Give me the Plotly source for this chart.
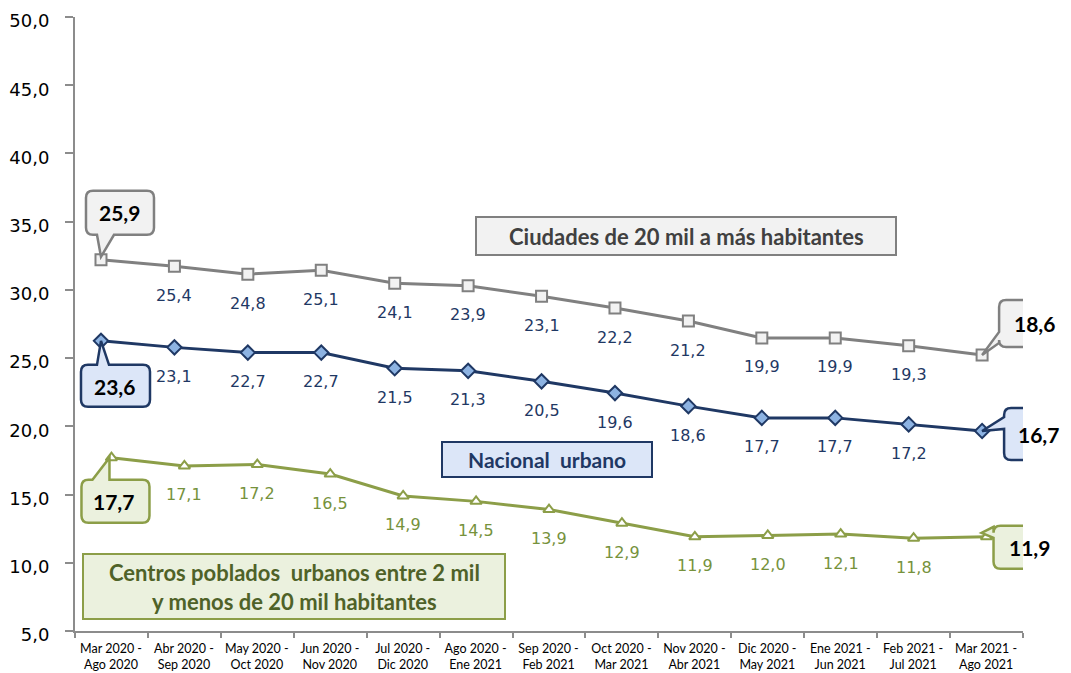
import plotly.graph_objects as go

# ---------------- data ----------------
periodos = [
    "Mar 2020 -<br>Ago 2020", "Abr 2020 -<br>Sep 2020", "May 2020 -<br>Oct 2020",
    "Jun 2020 -<br>Nov 2020", "Jul 2020 -<br>Dic 2020", "Ago 2020 -<br>Ene 2021",
    "Sep 2020 -<br>Feb 2021", "Oct 2020 -<br>Mar 2021", "Nov 2020 -<br>Abr 2021",
    "Dic 2020 -<br>May 2021", "Ene 2021 -<br>Jun 2021", "Feb 2021 -<br>Jul 2021",
    "Mar 2021 -<br>Ago 2021",
]
ciudades = [25.9, 25.4, 24.8, 25.1, 24.1, 23.9, 23.1, 22.2, 21.2, 19.9, 19.9, 19.3, 18.6]
nacional = [23.6, 23.1, 22.7, 22.7, 21.5, 21.3, 20.5, 19.6, 18.6, 17.7, 17.7, 17.2, 16.7]
centros = [17.7, 17.1, 17.2, 16.5, 14.9, 14.5, 13.9, 12.9, 11.9, 12.0, 12.1, 11.8, 11.9]
y_ticks = [5, 10, 15, 20, 25, 30, 35, 40, 45, 50]

nombre_ciudades = "Ciudades de 20 mil a más habitantes"
nombre_nacional = "Nacional  urbano"
nombre_centros = "Centros poblados  urbanos entre 2 mil<br>y menos de 20 mil habitantes"

idx = list(range(len(periodos)))

# ---------------- styles ----------------
GRAY = "#808080"
GRAY_FILL = "#F2F2F2"
NAVY = "#1F3864"
BLUE_FILL = "#DCE6F8"
BLUE_MARK = "#8DB3E2"
OLIVE = "#8C9E48"
OLIVE_FILL = "#EBF1DE"
OLIVE_TXT = "#76923C"
OLIVE_DARK = "#4F6228"
AXIS = "#8C8C8C"

def fmt(v):
    return f"{v:.1f}".replace(".", ",")

fig = go.Figure()

fig.add_trace(go.Scatter(
    x=idx, y=centros, mode="lines+markers", xaxis="x", yaxis="y",
    line=dict(color=OLIVE, width=3),
    marker=dict(symbol="triangle-up", size=10, color="white",
                line=dict(color=OLIVE, width=2)),
    hoverinfo="skip"))
fig.add_trace(go.Scatter(
    x=idx, y=ciudades, mode="lines+markers", xaxis="x2", yaxis="y2",
    line=dict(color=GRAY, width=3),
    marker=dict(symbol="square", size=11, color=GRAY_FILL,
                line=dict(color=GRAY, width=2)),
    hoverinfo="skip"))
fig.add_trace(go.Scatter(
    x=idx, y=nacional, mode="lines+markers", xaxis="x2", yaxis="y3",
    line=dict(color=NAVY, width=3),
    marker=dict(symbol="diamond", size=11, color=BLUE_MARK,
                line=dict(color=NAVY, width=2)),
    hoverinfo="skip"))

annotations = []
shapes = []

# data labels under intermediate points
for vals, xr, yr, col in [(ciudades, "x2", "y2", NAVY),
                          (nacional, "x2", "y3", NAVY),
                          (centros, "x", "y", OLIVE_TXT)]:
    for i in idx[1:-1]:
        annotations.append(dict(
            x=i, y=vals[i], xref=xr, yref=yr, text=fmt(vals[i]),
            showarrow=False, yshift=-29,
            font=dict(family="DejaVu Sans", size=16, color=col)))

# callouts (screen-relative pixel geometry, y down)
def callout_path(box, edge, b1, b2, tip, r=7):
    x0, x1, y0, y1 = box
    tx, ty = tip
    P = lambda x, y: f"{x},{-y}"
    s = f"M{P(x0 + r, y0)}"
    if edge == "top":
        s += f" L{P(b1, y0)} L{P(tx, ty)} L{P(b2, y0)}"
    s += f" L{P(x1 - r, y0)} Q{P(x1, y0)} {P(x1, y0 + r)}"
    if edge == "right":
        s += f" L{P(x1, b1)} L{P(tx, ty)} L{P(x1, b2)}"
    s += f" L{P(x1, y1 - r)} Q{P(x1, y1)} {P(x1 - r, y1)}"
    if edge == "bottom":
        s += f" L{P(b2, y1)} L{P(tx, ty)} L{P(b1, y1)}"
    s += f" L{P(x0 + r, y1)} Q{P(x0, y1)} {P(x0, y1 - r)}"
    if edge == "left":
        s += f" L{P(x0, b2)} L{P(tx, ty)} L{P(x0, b1)}"
    s += f" L{P(x0, y0 + r)} Q{P(x0, y0)} {P(x0 + r, y0)} Z"
    return s

callouts = [
    # series, index, xref, yref, box, edge, b1, b2, tip, text offset, fill, line
    (ciudades, 0, "x2", "y2", (-15, 53, -69, -25), "bottom", -4, 13, (0, -3), (19, -47), GRAY_FILL, GRAY),
    (ciudades, 12, "x2", "y2", (17, 88, -55, -8), "left", -23, -12, (0, 0), (52, -31), GRAY_FILL, GRAY),
    (nacional, 0, "x2", "y3", (-20, 49, 24, 66), "top", -4, 8, (0, 0), (14, 46), BLUE_FILL, NAVY),
    (nacional, 12, "x2", "y3", (22, 90, -23, 29), "left", -14, -2, (0, 0), (56, 4), BLUE_FILL, NAVY),
    (centros, 0, "x", "y", (-30, 38, 22, 65), "top", -19, -2, (-2, 0), (2, 44), OLIVE_FILL, OLIVE),
    (centros, 12, "x", "y", (7, 77, -11, 32), "left", -10, 1, (-5, -4), (43, 11), OLIVE_FILL, OLIVE),
]
for vals, i, xr, yr, box, edge, b1, b2, tip, toff, fill, line in callouts:
    shapes.append(dict(
        type="path", xref=xr, yref=yr, xsizemode="pixel", ysizemode="pixel",
        xanchor=i, yanchor=vals[i],
        path=callout_path(box, edge, b1, b2, tip),
        fillcolor=fill, line=dict(color=line, width=2.5), layer="above"))
    annotations.append(dict(
        x=i, y=vals[i], xref=xr, yref=yr, text=f"<b>{fmt(vals[i])}</b>",
        showarrow=False, xshift=toff[0], yshift=-toff[1],
        font=dict(family="Lato", size=21, color="black")))

# page geometry (the page body adds an 8px offset to the figure)
OFF = 8
W, H = 1071 - OFF, 673 - OFF
L, R, T, B = 75, 1023, 17, 631   # plot area in page pixels
def px(x):
    return (x - L) / (R - L)
def py(y):
    return (B - y) / (B - T)

name_boxes = [
    (nombre_ciudades, (476, 896, 217, 255), GRAY_FILL, GRAY, "#404040", 22),
    (nombre_nacional, (442, 652, 442, 477), BLUE_FILL, NAVY, NAVY, 21),
    (nombre_centros, (83, 505, 554, 619), OLIVE_FILL, OLIVE, OLIVE_DARK, 22),
]
for text, (x0, x1, y0, y1), fill, line, tcol, fs in name_boxes:
    shapes.append(dict(type="rect", xref="paper", yref="paper",
                       x0=px(x0), x1=px(x1), y0=py(y1), y1=py(y0),
                       fillcolor=fill, line=dict(color=line, width=2), layer="above"))
    annotations.append(dict(
        x=px((x0 + x1) / 2), y=py((y0 + y1) / 2), xref="paper", yref="paper",
        text=f"<b>{text}</b>", showarrow=False, xanchor="center", yanchor="middle",
        font=dict(family="Lato", size=fs, color=tcol)))

fig.update_layout(
    width=W, height=H,
    margin=dict(l=L - OFF, r=1071 - R, t=T - OFF, b=673 - B, autoexpand=False),
    plot_bgcolor="white", paper_bgcolor="white",
    showlegend=False, separators=",.",
    xaxis=dict(
        range=[-0.5001, len(periodos) - 0.4999], tickmode="array",
        tickvals=[i - 0.5 for i in range(len(periodos) + 1)],
        ticktext=periodos + [""], ticklabelshift=36, tickangle=0,
        ticks="outside", ticklen=5, tickcolor=AXIS, tickwidth=1.5,
        showline=True, linecolor=AXIS, linewidth=1.5,
        showgrid=False, zeroline=False, automargin=False,
        tickfont=dict(family="Lato", size=12.5, color="black")),
    xaxis2=dict(overlaying="x", range=[-0.354, 12.557], visible=False),
    yaxis=dict(
        range=[4.999, 50.001], tickmode="array", tickvals=y_ticks, tickformat=".1f",
        ticks="outside", ticklen=8, tickcolor=AXIS, tickwidth=1.5,
        showline=True, linecolor=AXIS, linewidth=2, ticklabeloverflow="allow",
        showgrid=False, zeroline=False, ticklabelstandoff=12, ticklabelshift=4,
        automargin=False,
        tickfont=dict(family="DejaVu Sans", size=18, color="black")),
    yaxis2=dict(overlaying="y", range=[-2.586, 44.534], visible=False),
    yaxis3=dict(overlaying="y", range=[1.379, 48.40], visible=False),
    shapes=shapes, annotations=annotations,
)

fig.write_html("out.html")
